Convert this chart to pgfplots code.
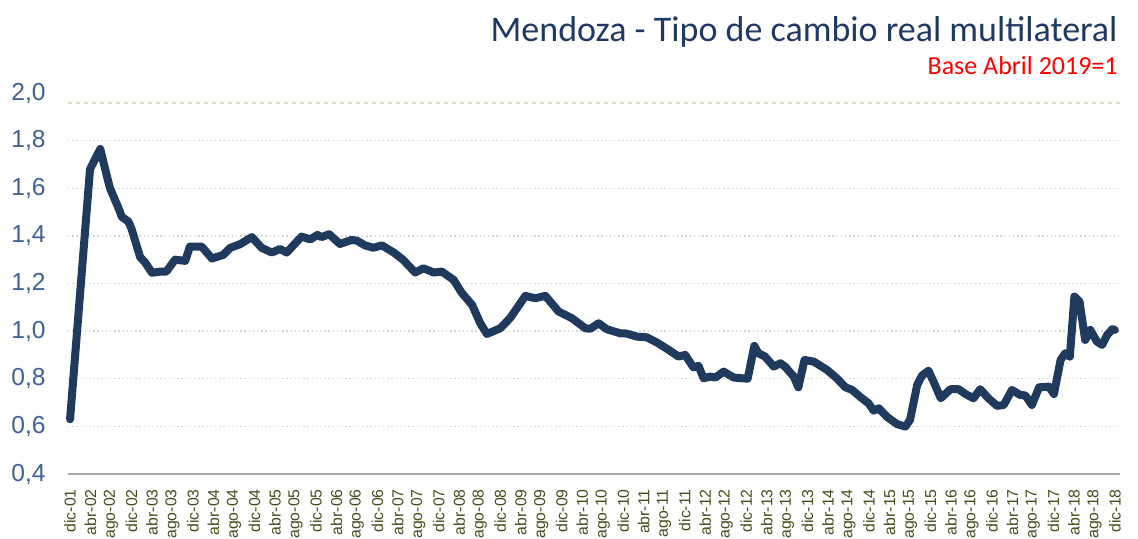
\documentclass[border=0pt]{standalone}
\usepackage{pgfplots}
\pgfplotsset{compat=1.18}
\usepackage{fontspec}
\setmainfont{Liberation Sans}
\newfontfamily\titlefont{Carlito}
\definecolor{linecol}{HTML}{1F3A5C}
\definecolor{titlecol}{HTML}{1F3864}
\definecolor{ytickcol}{HTML}{3F6096}
\definecolor{xtickcol}{HTML}{4A4A1A}
\definecolor{gridcol}{HTML}{D4D4D4}
\definecolor{axiscol}{HTML}{A6A6A6}
\definecolor{dashcol}{HTML}{DDD9C3}
\begin{document}
\begin{tikzpicture}
\useasboundingbox (-34bp,-32.5bp) rectangle (535bp,237bp);
\begin{axis}[
  at={(0,0)}, anchor=south west,
  scale only axis, width=526bp, height=190.5bp,
  xmin=-0.4, xmax=205, ymin=0.4, ymax=2.0,
  enlargelimits=false,
  axis x line*=bottom, axis y line*=left,
  x axis line style={-, draw=axiscol, line width=1.1bp},
  y axis line style={draw=none},
  major tick length=0pt,
  xtick={0,4,...,204},
  xticklabels={dic-01,abr-02,ago-02,dic-02,abr-03,ago-03,dic-03,abr-04,ago-04,dic-04,abr-05,ago-05,dic-05,abr-06,ago-06,dic-06,abr-07,ago-07,dic-07,abr-08,ago-08,dic-08,abr-09,ago-09,dic-09,abr-10,ago-10,dic-10,abr-11,ago-11,dic-11,abr-12,ago-12,dic-12,abr-13,ago-13,dic-13,abr-14,ago-14,dic-14,abr-15,ago-15,dic-15,abr-16,ago-16,dic-16,abr-17,ago-17,dic-17,abr-18,ago-18,dic-18},
  xticklabel style={rotate=90, anchor=east, inner sep=0pt, font=\fontsize{7.9bp}{8bp}\selectfont, text=xtickcol},
  xticklabel shift=7.5bp,
  ytick={0.4,0.6,...,2.0},
  yticklabel style={anchor=east, inner sep=0pt, font=\fontsize{12.3bp}{14bp}\selectfont, text=ytickcol,
    /pgf/number format/.cd, fixed, fixed zerofill, precision=1, use comma, assume math mode=true},
  yticklabel shift=11bp,
  extra y ticks={0.6,0.8,1.0,1.2,1.4,1.6,1.8},
  extra y tick labels={},
  extra y tick style={grid=major, major grid style={draw=gridcol, line width=0.7bp, dash pattern=on 0.7bp off 1.4bp}},
  clip=false,
]
\draw[dashcol, line width=0.9bp, dash pattern=on 2bp off 2bp] (axis cs:-0.4,1.958) -- (axis cs:205,1.958);
\addplot[linecol, line width=4bp, line join=round, line cap=round] coordinates {
(0,0.63) (3.9,1.68) (5.9,1.765) (7.2,1.65) (7.8,1.60) (9.4,1.52) (10.1,1.48) (11.4,1.46) (12,1.43)
(13.7,1.31) (14.6,1.29) (16,1.245) (17.6,1.25) (18.8,1.25) (20.5,1.30) (22.5,1.295) (23.4,1.355)
(25.7,1.355) (27.7,1.305) (29.9,1.32) (31.3,1.35) (33.2,1.365) (35.5,1.395) (37.4,1.35) (39.4,1.33)
(41,1.345) (42.3,1.33) (45.2,1.397) (46.9,1.385) (48.3,1.404) (49.1,1.395) (50.6,1.407) (52.7,1.366)
(55,1.383) (56,1.38) (57.6,1.36) (59.2,1.35) (60.9,1.36) (63.2,1.33) (65,1.30) (67.4,1.246)
(69,1.264) (71,1.246) (72.6,1.25) (74.9,1.215) (76.5,1.16) (78.5,1.11) (80.1,1.033) (81.4,0.988)
(84,1.012) (85.9,1.054) (88.9,1.148) (90.8,1.138) (92.8,1.148) (95.4,1.082) (98,1.054) (100.6,1.012)
(101.6,1.01) (103.2,1.033) (104.8,1.008) (107.4,0.991) (108.6,0.99) (110.7,0.977) (112.6,0.974)
(114.6,0.952) (116.9,0.921) (118.8,0.893) (120.1,0.90) (121.7,0.848) (122.7,0.854) (123.7,0.802)
(125,0.809) (126,0.805) (127.6,0.83) (129.6,0.805) (132.3,0.80) (133.6,0.938) (134.4,0.907)
(135.7,0.893) (137.4,0.851) (138.7,0.865) (139.6,0.851) (141.3,0.809) (142.2,0.764) (143.4,0.879)
(145.2,0.872) (147.8,0.837) (149.7,0.802) (151.4,0.764) (152.7,0.753) (154.6,0.718) (155.9,0.697)
(156.9,0.666) (157.9,0.676) (159.5,0.64) (161.5,0.609) (163.1,0.599) (164,0.627) (165.4,0.774)
(166.3,0.812) (167.6,0.834) (168.8,0.778) (170,0.718) (171.9,0.756) (173.5,0.756) (174.8,0.736)
(176.4,0.718) (177.7,0.756) (179.3,0.718) (181,0.686) (182.3,0.69) (183.9,0.753) (185.5,0.732)
(186.5,0.73) (187.8,0.69) (189.2,0.764) (191.1,0.767) (192.1,0.736) (193.4,0.879) (194.3,0.907)
(195.2,0.893) (196.1,1.145) (197.1,1.124) (198.2,0.963) (199.2,1.005) (200.5,0.956) (201.5,0.942)
(202.5,0.984) (203.5,1.008) (204,1.005)
};
\end{axis}
\node[anchor=east, inner sep=0pt, text=titlecol, font=\titlefont\fontsize{18bp}{20bp}\selectfont] at (525bp,221bp) {Mendoza - Tipo de cambio real multilateral};
\node[anchor=east, inner sep=0pt, text=red, font=\titlefont\fontsize{13bp}{15bp}\selectfont] at (525bp,204bp) {Base Abril 2019=1};
\end{tikzpicture}
\end{document}
